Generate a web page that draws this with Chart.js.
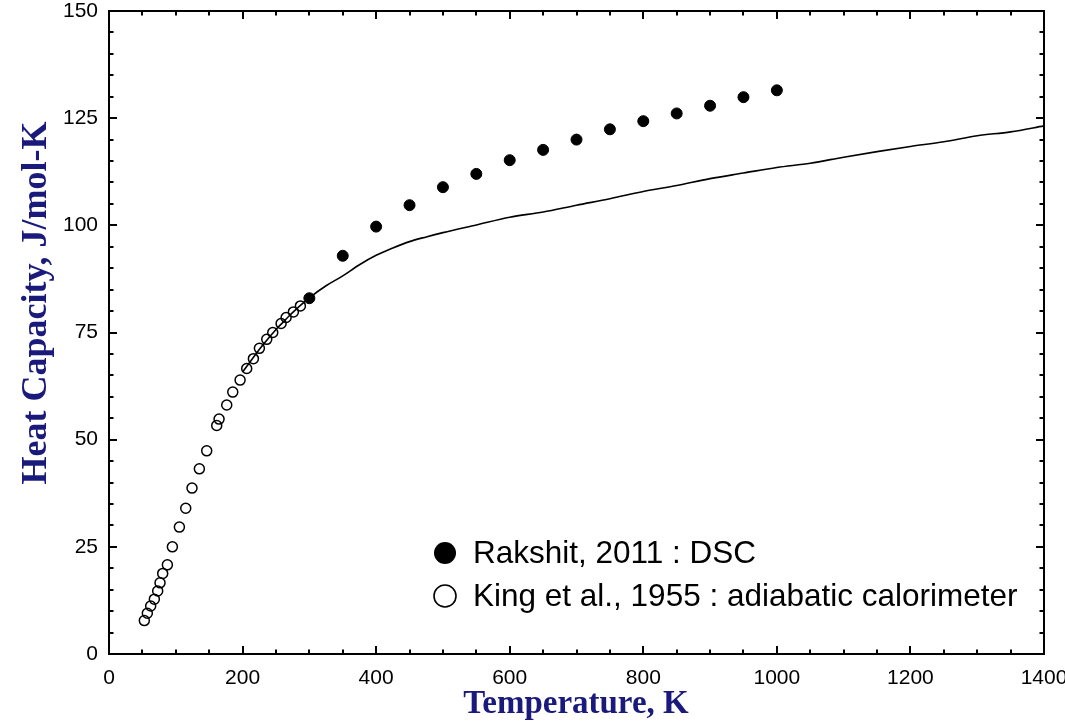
<!DOCTYPE html>
<html>
<head>
<meta charset="utf-8">
<script src="https://cdn.jsdelivr.net/npm/chart.js@4"></script>
<style>
  html, body { margin: 0; padding: 0; overflow: hidden; background: #fff; }
  canvas { display: block; }
</style>
</head>
<body>
<canvas id="c" width="1100" height="724"></canvas>
<script>
// Adiabatic calorimetry, King et al. (1955)
const kingT  = [52.9, 57.4, 62.4, 67.9, 72.9, 76.4, 80.4, 87.4, 94.9, 105.4, 114.9, 124.3, 135.3, 146.3,
                161.3, 164.8, 176.3, 185.3, 196.3, 206.2, 216.2, 225.2, 236.2, 245.2, 257.7, 265.2, 276.1, 286.6];
const kingCp = [7.8, 9.5, 11.2, 12.8, 14.7, 16.6, 18.8, 20.8, 25.0, 29.6, 34.0, 38.7, 43.2, 47.4,
                53.3, 54.8, 58.1, 61.1, 63.9, 66.6, 68.9, 71.3, 73.4, 75.0, 77.1, 78.5, 79.8, 81.2];

// DSC, Rakshit (2011)
const rakT  = [300, 350, 400, 450, 500, 550, 600, 650, 700, 750, 800, 850, 900, 950, 1000];
const rakCp = [83.0, 92.9, 99.7, 104.7, 108.9, 112.0, 115.2, 117.6, 120.0, 122.4, 124.3, 126.1, 127.9, 129.9, 131.5];

// Assessed heat capacity curve
const fitT  = [200, 210, 220, 230, 240, 250, 260, 270, 280, 290, 300, 325, 350, 375, 400, 425, 450, 475, 500,
               550, 600, 650, 700, 750, 800, 850, 900, 950, 1000, 1050, 1100, 1150, 1200, 1250, 1300, 1350, 1400];
const fitCp = [65.8, 67.9, 70.0, 72.0, 73.9, 75.7, 77.3, 78.9, 80.4, 81.8, 83.1, 85.9, 88.2, 90.8, 93.0, 94.7, 96.2, 97.3, 98.3,
               100.1, 101.9, 103.1, 104.7, 106.2, 107.9, 109.3, 110.9, 112.2, 113.5, 114.5, 115.9, 117.2, 118.4, 119.5, 120.9, 121.8, 123.2];

// Axis ranges and tick spacing
const xRange = [0, 1400], xMajor = 200, xMinor = 50;
const yRange = [0, 150],  yMajor = 25,  yMinor = 5;

const xTitle = 'Temperature, K';
const yTitle = 'Heat Capacity, J/mol-K';
const legendItems = [
  { text: 'Rakshit, 2011 : DSC', filled: true },
  { text: 'King et al., 1955 : adiabatic calorimeter', filled: false }
];

const pts = (xs, ys) => xs.map((x, i) => ({ x, y: ys[i] }));
const navy = '#1a1a7c';
const sans = '"Liberation Sans", Arial, sans-serif';
const serif = '"Liberation Serif", "Times New Roman", serif';

// Box frame with inward ticks on all four sides
const framePlugin = {
  id: 'frame',
  afterDraw(chart) {
    const { ctx, chartArea: a, scales: { x, y } } = chart;
    ctx.save();
    ctx.strokeStyle = '#000';
    ctx.lineWidth = 2;
    ctx.strokeRect(a.left, a.top, a.right - a.left, a.bottom - a.top);
    ctx.beginPath();
    for (let v = xRange[0]; v <= xRange[1] + 1e-9; v += xMinor) {
      const px = Math.round(x.getPixelForValue(v));
      const len = (v % xMajor === 0) ? 8 : 4.5;
      ctx.moveTo(px, a.bottom); ctx.lineTo(px, a.bottom - len);
      ctx.moveTo(px, a.top);    ctx.lineTo(px, a.top + len);
    }
    for (let v = yRange[0]; v <= yRange[1] + 1e-9; v += yMinor) {
      const py = Math.round(y.getPixelForValue(v));
      const len = (v % yMajor === 0) ? 8 : 4.5;
      ctx.moveTo(a.left, py);  ctx.lineTo(a.left + len, py);
      ctx.moveTo(a.right, py); ctx.lineTo(a.right - len, py);
    }
    ctx.stroke();

    // axis titles
    ctx.fillStyle = navy;
    ctx.textAlign = 'center';
    ctx.font = 'bold 33px ' + serif;
    ctx.textBaseline = 'alphabetic';
    ctx.fillText(xTitle, 576, 713);
    ctx.save();
    ctx.font = 'bold 36px ' + serif;
    ctx.translate(37, 303);
    ctx.rotate(-Math.PI / 2);
    ctx.textBaseline = 'middle';
    ctx.fillText(yTitle, 0, 0);
    ctx.restore();

    // legend
    ctx.font = '31.5px ' + sans;
    ctx.textAlign = 'left';
    ctx.textBaseline = 'middle';
    ctx.fillStyle = '#000';
    legendItems.forEach((it, i) => {
      const cy = 553 + i * 43;
      ctx.beginPath();
      ctx.arc(445, cy, 11, 0, Math.PI * 2);
      if (it.filled) { ctx.fill(); }
      else { ctx.lineWidth = 1.6; ctx.stroke(); }
      ctx.fillText(it.text, 473, cy + 1);
    });
    ctx.restore();
  }
};

new Chart(document.getElementById('c'), {
  type: 'scatter',
  data: {
    datasets: [
      {
        type: 'line',
        data: pts(fitT, fitCp),
        borderColor: '#000',
        borderWidth: 1.6,
        pointRadius: 0,
        fill: false,
        cubicInterpolationMode: 'monotone',
        order: 3
      },
      {
        data: pts(kingT, kingCp),
        pointRadius: 5,
        pointBorderWidth: 1.5,
        borderColor: '#000',
        backgroundColor: 'rgba(0,0,0,0)',
        order: 2
      },
      {
        data: pts(rakT, rakCp),
        pointRadius: 5.5,
        pointBorderWidth: 1,
        borderColor: '#000',
        backgroundColor: '#000',
        order: 1
      }
    ]
  },
  options: {
    responsive: false,
    animation: false,
    events: [],
    layout: { padding: { left: 0, top: 11, right: 56, bottom: 0 } },
    plugins: { legend: { display: false }, tooltip: { enabled: false } },
    scales: {
      x: {
        type: 'linear',
        min: xRange[0], max: xRange[1],
        grid: { display: false, drawTicks: false },
        border: { display: false },
        ticks: {
          stepSize: xMajor, autoSkip: false, maxRotation: 0,
          color: '#000', padding: 12,
          font: { family: sans, size: 21 },
          callback: v => String(v)
        },
        afterFit(s) { s.height = 70; s.paddingLeft = 0; s.paddingRight = 0; }
      },
      y: {
        type: 'linear',
        min: yRange[0], max: yRange[1],
        grid: { display: false, drawTicks: false },
        border: { display: false },
        ticks: {
          stepSize: yMajor, autoSkip: false,
          color: '#000', padding: 11,
          font: { family: sans, size: 21 },
          callback: v => String(v)
        },
        afterFit(s) { s.width = 109; s.paddingTop = 0; s.paddingBottom = 0; }
      }
    }
  },
  plugins: [framePlugin]
});
</script>
</body>
</html>
